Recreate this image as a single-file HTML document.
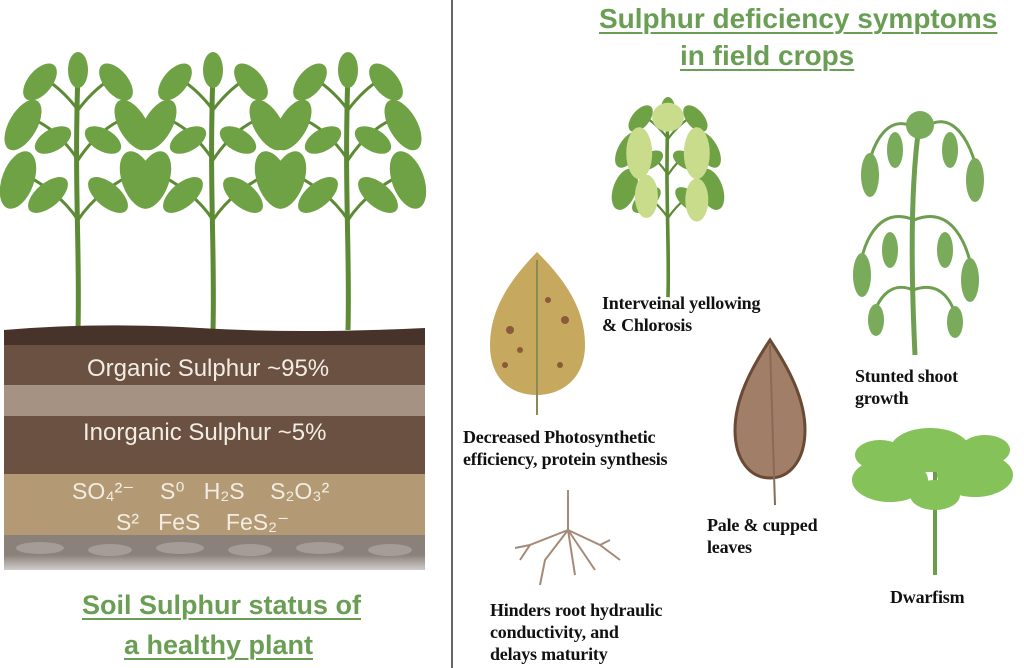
<!DOCTYPE html>
<html><head><meta charset="utf-8"><style>
html,body{margin:0;padding:0;background:#fff;}
body{width:1024px;height:668px;overflow:hidden;position:relative;font-family:"Liberation Sans",sans-serif;}
svg{position:absolute;left:0;top:0;}
.t{position:absolute;font-family:"Liberation Serif",serif;font-size:18px;line-height:22px;color:#111;font-weight:bold;letter-spacing:-0.2px;white-space:nowrap;}
.h{position:absolute;color:#6a9e55;font-weight:bold;font-size:27px;text-decoration:underline;text-decoration-thickness:2px;text-underline-offset:4px;white-space:nowrap;}
.s{position:absolute;color:#f2ece4;font-size:24px;white-space:nowrap;}
</style></head><body>
<svg width="1024" height="668" viewBox="0 0 1024 668">
<defs>
<linearGradient id="fade" x1="0" y1="0" x2="0" y2="1"><stop offset="0" stop-color="#fff" stop-opacity="0"/><stop offset="1" stop-color="#fff"/></linearGradient>
<g id="plant">
 <path d="M0 260 C2 180 -4 120 0 0" stroke="#5c8a35" stroke-width="5" fill="none"/>
 <path d="M0 150 C-20 120 -45 110 -60 100 M0 150 C20 120 45 110 60 100 M0 90 C-20 60 -40 50 -55 45 M0 90 C20 60 40 50 55 45 M0 40 C-15 20 -30 10 -40 5 M0 40 C15 20 30 10 40 5" stroke="#5c8a35" stroke-width="3" fill="none"/>
 <g fill="#6fa244">
 <ellipse cx="-60" cy="110" rx="16" ry="30" transform="rotate(20 -60 110)"/>
 <ellipse cx="60" cy="110" rx="16" ry="30" transform="rotate(-20 60 110)"/>
 <ellipse cx="-30" cy="125" rx="12" ry="24" transform="rotate(50 -30 125)"/>
 <ellipse cx="30" cy="125" rx="12" ry="24" transform="rotate(-50 30 125)"/>
 <ellipse cx="-55" cy="55" rx="14" ry="28" transform="rotate(30 -55 55)"/>
 <ellipse cx="55" cy="55" rx="14" ry="28" transform="rotate(-30 55 55)"/>
 <ellipse cx="-25" cy="70" rx="11" ry="20" transform="rotate(60 -25 70)"/>
 <ellipse cx="25" cy="70" rx="11" ry="20" transform="rotate(-60 25 70)"/>
 <ellipse cx="-38" cy="12" rx="12" ry="22" transform="rotate(40 -38 12)"/>
 <ellipse cx="38" cy="12" rx="12" ry="22" transform="rotate(-40 38 12)"/>
 <ellipse cx="0" cy="0" rx="10" ry="18"/>
 </g>
</g>
</defs>
<use href="#plant" transform="translate(78 70)"/>
<use href="#plant" transform="translate(213 70)"/>
<use href="#plant" transform="translate(348 70)"/>
<path d="M4 330 Q100 322 200 328 T425 328 L425 350 L4 350Z" fill="#47332a"/>
<rect x="4" y="345" width="421" height="44" fill="#6a5141"/>
<rect x="4" y="385" width="421" height="34" fill="#a69282"/>
<rect x="4" y="416" width="421" height="60" fill="#6a5141"/>
<rect x="4" y="474" width="421" height="66" fill="#b39a74"/>
<rect x="4" y="535" width="421" height="35" fill="#8b817b"/>
<g fill="#a49c97"><ellipse cx="40" cy="548" rx="24" ry="6"/><ellipse cx="110" cy="550" rx="22" ry="6"/><ellipse cx="180" cy="548" rx="24" ry="6"/><ellipse cx="250" cy="550" rx="22" ry="6"/><ellipse cx="320" cy="548" rx="24" ry="6"/><ellipse cx="390" cy="550" rx="22" ry="6"/></g>
<rect x="0" y="555" width="430" height="25" fill="url(#fade)"/>
<line x1="452" y1="0" x2="452" y2="668" stroke="#666" stroke-width="2"/>
<g transform="translate(668 110) scale(0.72)">
<use href="#plant"/>
<g fill="#c8dc8c"><ellipse cx="-40" cy="60" rx="18" ry="36"/><ellipse cx="40" cy="60" rx="18" ry="36"/><ellipse cx="-30" cy="120" rx="16" ry="30"/><ellipse cx="40" cy="125" rx="16" ry="30"/><ellipse cx="0" cy="10" rx="22" ry="20"/></g></g>
<path d="M915 355 C910 250 912 170 920 120" stroke="#6e9e4f" stroke-width="5" fill="none"/>
<path d="M918 130 C890 110 870 140 865 185 M922 130 C950 105 975 140 980 190 M914 220 C880 205 860 240 858 285 M914 220 C950 205 970 240 975 290 M913 290 C890 280 875 300 872 325 M913 290 C940 280 955 300 958 330" stroke="#6e9e4f" stroke-width="3" fill="none"/>
<g fill="#7aab5a"><ellipse cx="870" cy="175" rx="9" ry="22"/><ellipse cx="975" cy="180" rx="9" ry="22"/><ellipse cx="895" cy="150" rx="8" ry="18"/><ellipse cx="950" cy="150" rx="8" ry="18"/><ellipse cx="862" cy="275" rx="9" ry="22"/><ellipse cx="970" cy="280" rx="9" ry="22"/><ellipse cx="890" cy="250" rx="8" ry="18"/><ellipse cx="945" cy="250" rx="8" ry="18"/><ellipse cx="876" cy="320" rx="8" ry="16"/><ellipse cx="955" cy="322" rx="8" ry="16"/><ellipse cx="920" cy="125" rx="14" ry="14"/></g>
<path d="M935 575 L935 470" stroke="#6a9e45" stroke-width="4"/>
<g fill="#86c25a"><ellipse cx="890" cy="480" rx="38" ry="22"/><ellipse cx="975" cy="475" rx="38" ry="22"/><ellipse cx="930" cy="450" rx="40" ry="22"/><ellipse cx="880" cy="455" rx="25" ry="15"/><ellipse cx="985" cy="450" rx="25" ry="15"/><ellipse cx="935" cy="495" rx="25" ry="15"/></g>
<path d="M537 252 C560 275 585 305 585 345 C585 380 560 395 537 395 C512 395 490 380 490 345 C490 305 515 275 537 252Z" fill="#c6a85e"/>
<path d="M537 260 L537 415" stroke="#8a8a55" stroke-width="2"/>
<g fill="#8a5a3a"><circle cx="510" cy="330" r="4"/><circle cx="520" cy="350" r="3"/><circle cx="565" cy="320" r="4"/><circle cx="560" cy="365" r="3"/><circle cx="505" cy="365" r="3"/><circle cx="548" cy="300" r="3"/></g>
<path d="M770 340 C790 370 805 400 805 430 C805 460 790 478 770 478 C750 478 735 460 735 430 C735 400 750 370 770 340Z" fill="#a07e68" stroke="#6b4a35" stroke-width="3"/>
<path d="M770 345 L775 505" stroke="#8a6a55" stroke-width="2"/>
<path d="M568 490 L568 530 M568 530 L530 545 L520 560 M568 530 L545 560 L540 585 M568 530 L575 575 M568 530 L600 545 L620 560 M568 530 L595 570 M530 545 L515 548 M600 545 L610 540" stroke="#a58a78" stroke-width="2" fill="none"/>
</svg>

<div class="s" style="left:87px;top:355px;">Organic Sulphur ~95%</div>
<div class="s" style="left:83px;top:419px;">Inorganic Sulphur ~5%</div>
<div class="s" style="left:72px;top:478px;font-size:23px;">SO₄²⁻&nbsp;&nbsp;&nbsp; S⁰&nbsp;&nbsp; H₂S&nbsp;&nbsp;&nbsp; S₂O₃²</div>
<div class="s" style="left:116px;top:509px;font-size:23px;">S²&nbsp;&nbsp; FeS&nbsp;&nbsp;&nbsp; FeS₂⁻</div>

<div class="h" style="left:82px;top:590px;">Soil Sulphur status of</div>
<div class="h" style="left:124px;top:630px;">a healthy plant</div>
<div class="h" style="left:599px;top:3px;font-size:28px;">Sulphur deficiency symptoms</div>
<div class="h" style="left:680px;top:40px;font-size:28px;">in field crops</div>

<div class="t" style="left:602px;top:292px;">Interveinal yellowing<br>&amp; Chlorosis</div>
<div class="t" style="left:463px;top:426px;">Decreased Photosynthetic<br>efficiency, protein synthesis</div>
<div class="t" style="left:855px;top:365px;">Stunted shoot<br>growth</div>
<div class="t" style="left:707px;top:514px;">Pale &amp; cupped<br>leaves</div>
<div class="t" style="left:890px;top:586px;">Dwarfism</div>
<div class="t" style="left:490px;top:599px;">Hinders root hydraulic<br>conductivity, and<br>delays maturity</div>
</body></html>
